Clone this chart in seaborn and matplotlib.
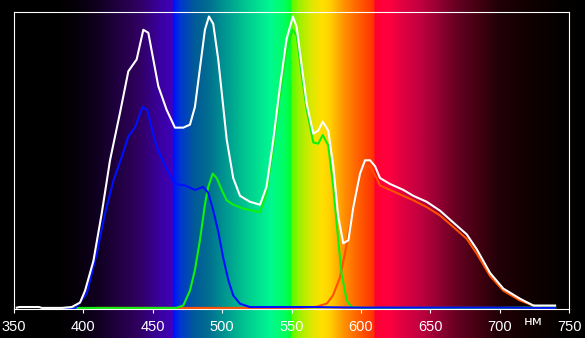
import numpy as np
import pandas as pd
import matplotlib
matplotlib.use("Agg")
import matplotlib.pyplot as plt
import matplotlib.colors as mcolors
import seaborn as sns

# ---------------- data ----------------
wl_white = [352, 354, 368, 370, 385, 391.6, 397.6, 401.2, 407.2, 413.2, 419.2, 426.4, 432.4,
            438.4, 443.2, 446.8, 449.2, 454, 460, 466, 472, 476.8, 480.4, 484, 487.6, 490.5,
            493.6, 497.2, 503.3, 508, 512.9, 520, 527.3, 532, 536.9, 541.7, 546.5, 551,
            553.7, 557.3, 561, 565.7, 569.3, 572.5, 576.5, 580.1, 583.7, 587.3, 591, 594.5,
            599.4, 603, 606.6, 610.2, 613.8, 621, 630.6, 637.8, 647.4, 657, 666.6, 676.3,
            683.5, 693.1, 702.7, 714.7, 724.3, 740]
val_white = [0.003, 0.005, 0.005, 0.002, 0.002, 0.005, 0.02, 0.06, 0.16, 0.32, 0.50, 0.66, 0.80,
             0.84, 0.94, 0.93, 0.87, 0.75, 0.67, 0.61, 0.61, 0.62, 0.68, 0.81, 0.94, 0.985,
             0.96, 0.84, 0.57, 0.44, 0.38, 0.36, 0.35, 0.41, 0.57, 0.75, 0.91, 0.985,
             0.95, 0.82, 0.69, 0.59, 0.60, 0.63, 0.60, 0.48, 0.31, 0.22, 0.23, 0.34,
             0.455, 0.50, 0.50, 0.48, 0.44, 0.42, 0.40, 0.38, 0.36, 0.33, 0.29, 0.25,
             0.20, 0.12, 0.067, 0.033, 0.01, 0.01]

wl_blue = [385, 394, 402.4, 409.6, 415.6, 421.6, 427.6, 432.4, 437.2, 442.7, 446.1, 449.2,
           452.8, 460, 466, 473.2, 480.4, 486.4, 490, 493.6, 497.2, 500.8, 504.5, 508,
           512.9, 520, 560, 600, 700, 740]
val_blue = [0.0, 0.0, 0.05, 0.185, 0.32, 0.43, 0.51, 0.58, 0.61, 0.68, 0.67, 0.61,
            0.545, 0.47, 0.42, 0.415, 0.40, 0.41, 0.39, 0.33, 0.26, 0.17, 0.095, 0.044,
            0.016, 0.005, 0.005, 0.003, 0.003, 0.002]

wl_green = [385, 467, 472, 476.8, 480.4, 484, 487.6, 490, 493.2, 496.1, 499.7, 503.3, 508,
            515.3, 527.3, 532, 536.9, 541.7, 546.5, 550.8, 553.7, 557.3, 561, 565.7, 569.3,
            572.5, 576.5, 580.1, 583.7, 586.1, 589.8, 593, 600, 700, 740]
val_green = [0.002, 0.002, 0.01, 0.06, 0.13, 0.23, 0.35, 0.41, 0.455, 0.44, 0.40, 0.365, 0.35,
             0.337, 0.325, 0.39, 0.545, 0.72, 0.87, 0.94, 0.92, 0.79, 0.67, 0.56, 0.556,
             0.585, 0.55, 0.41, 0.23, 0.117, 0.027, 0.005, 0.002, 0.002, 0.004]

wl_red = [410, 557, 568, 575.6, 580, 585, 588.5, 592, 595.8, 599.4, 603, 606.6, 610.2, 613.8,
          621, 630.6, 637.8, 647.4, 657, 666.6, 676.3, 683.5, 693.1, 702.7, 714.7, 724.3, 730]
val_red = [0.002, 0.002, 0.006, 0.017, 0.045, 0.106, 0.185, 0.275, 0.365, 0.44, 0.477, 0.48,
           0.45, 0.415, 0.40, 0.38, 0.365, 0.342, 0.314, 0.275, 0.235, 0.185, 0.11, 0.06,
           0.027, 0.01, 0.005]

x_ticks = [350, 400, 450, 500, 550, 600, 650, 700, 750]
unit_label = "нм"

# spectrum background stops (nm, colour)
spec_nm = [339.9, 380, 395, 410, 425, 440, 455, 464, 465, 470, 480, 490, 505, 520, 535, 545,
           549.5, 550, 556, 565, 572, 578, 588, 600, 609.5, 610, 620, 630, 643, 657, 671,
           686, 700, 722, 743, 761.5]
spec_col = ["#000000", "#000000", "#050008", "#100020", "#200040", "#300060", "#3a00a0",
            "#4000b8", "#0010ff", "#0038d0", "#005a98", "#006e90", "#00a090", "#00d090",
            "#00f890", "#00ff60", "#00ff30", "#50ff00", "#a0f000", "#e0e800", "#ffe000",
            "#ffd000", "#ff9000", "#ff5800", "#ff3000", "#ff0030", "#ff0040", "#e00040",
            "#c00040", "#900030", "#600020", "#400010", "#200008", "#100000", "#050000",
            "#000000"]

# ---------------- figure ----------------
W, H = 585, 338
fig = plt.figure(figsize=(W / 100, H / 100), dpi=100)
fig.patch.set_facecolor("black")

# background spectrum covering the whole figure
bg = fig.add_axes([0, 0, 1, 1], zorder=0)
grid = np.linspace(spec_nm[0], spec_nm[-1], 2000)
rgb = np.array([mcolors.to_rgb(c) for c in spec_col])
img = np.stack([np.interp(grid, spec_nm, rgb[:, k]) for k in range(3)], axis=-1)[None, :, :]
bg.imshow(img, aspect="auto", extent=[spec_nm[0], spec_nm[-1], 0, 1], interpolation="bilinear")
bg.set_xlim(spec_nm[0], spec_nm[-1])
bg.axis("off")

left, right, top, bottom = 14, 569, 12, 308.5
ax = fig.add_axes([left / W, 1 - bottom / H, (right - left) / W, (bottom - top) / H], zorder=1)
ax.set_facecolor("none")

series = [
    (wl_red, val_red, "#ff5000"),
    (wl_green, val_green, "#10f010"),
    (wl_blue, val_blue, "#0010ff"),
    (wl_white, val_white, "#ffffff"),
]
for wl, val, col in series:
    df = pd.DataFrame({"nm": wl, "v": val})
    sns.lineplot(data=df, x="nm", y="v", ax=ax, color=col, lw=1.5, estimator=None)

ax.set_xlim(350, 750)
ax.set_ylim(0, 1)
ax.set_xlabel("")
ax.set_ylabel("")
ax.set_yticks([])
ax.set_xticks(x_ticks)
ax.set_xticklabels([str(t) for t in x_ticks],
                   fontfamily=["Liberation Sans Narrow", "Liberation Sans", "DejaVu Sans"],
                   fontsize=10.5)
ax.tick_params(axis="x", colors="white", length=3, width=0.8, pad=5, labelcolor="white")
for s in ax.spines.values():
    s.set_color("white")
    s.set_linewidth(0.8)
ax.grid(False)

ax.text(724.4, -0.044, unit_label, transform=ax.get_xaxis_transform(), color="white",
        fontsize=9.5, ha="center", va="center", fontfamily="DejaVu Sans")

fig.savefig("out.png", dpi=100, facecolor="black")
